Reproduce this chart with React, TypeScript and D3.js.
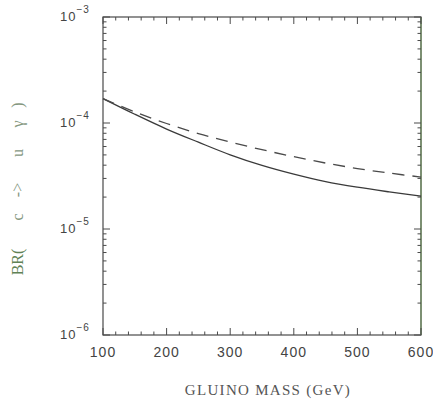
import React from "react";
import * as d3 from "d3";

const massGeV = [100, 150, 200, 250, 300, 350, 400, 450, 500, 550, 600];
const brSolid = [1.7e-4, 1.21e-4, 8.77e-5, 6.59e-5, 5.01e-5, 3.98e-5, 3.29e-5, 2.8e-5, 2.48e-5, 2.24e-5, 2.04e-5];
const brDashed = [1.7e-4, 1.27e-4, 9.89e-5, 7.94e-5, 6.61e-5, 5.6e-5, 4.81e-5, 4.19e-5, 3.72e-5, 3.37e-5, 3.09e-5];
const xTicks = [100, 200, 300, 400, 500, 600];
const yExps = [-3, -4, -5, -6];
const yTitleParts = ["BR(", "c", "->", "u", "\u03B3", ")"];

export default function App() {
  const W = 433, H = 400;
  const L = 103, R = 421, T = 17, B = 335;
  const x = d3.scaleLinear().domain([100, 600]).range([L, R]);
  const y = d3.scaleLog().domain([1e-6, 1e-3]).range([B, T]);
  const line = d3.line<number>().x((d, i) => x(massGeV[i])).y((d) => y(d)).curve(d3.curveCatmullRom);
  const minorX = d3.range(100, 601, 20).filter((v) => v % 100 !== 0);
  const minorY: number[] = [];
  for (let e = -6; e < -3; e++) for (let k = 2; k <= 9; k++) minorY.push(k * Math.pow(10, e));
  const ink = "#4a4a4a";
  const titlePos = [262, 217, 190, 153, 124, 105];
  return (
    <svg width={W} height={H} style={{ position: "absolute", left: 0, top: 0, background: "#fff" }}>
      <rect x={L} y={T} width={R - L} height={B - T} fill="none" stroke={ink} strokeWidth={1.2} />
      <line x1={R} x2={R} y1={T} y2={B} stroke="#6f8f5f" strokeWidth={1.2} />
      {xTicks.map((v) => (
        <g key={"xm" + v}>
          <line x1={x(v)} x2={x(v)} y1={B} y2={B - 7} stroke={ink} />
          <line x1={x(v)} x2={x(v)} y1={T} y2={T + 7} stroke={ink} />
          <text x={x(v)} y={357} textAnchor="middle" fontFamily="Liberation Sans, Arial, sans-serif" fontSize={14} fill="#444" letterSpacing={1}>
            {v}
          </text>
        </g>
      ))}
      {minorX.map((v) => (
        <g key={"xn" + v}>
          <line x1={x(v)} x2={x(v)} y1={B} y2={B - 3.5} stroke={ink} />
          <line x1={x(v)} x2={x(v)} y1={T} y2={T + 3.5} stroke={ink} />
        </g>
      ))}
      {yExps.map((e) => (
        <g key={"ym" + e}>
          <line x1={L} x2={L + 7} y1={y(Math.pow(10, e))} y2={y(Math.pow(10, e))} stroke={ink} />
          <line x1={R} x2={R - 7} y1={y(Math.pow(10, e))} y2={y(Math.pow(10, e))} stroke={ink} />
          <text x={60} y={y(Math.pow(10, e)) + 4} fontFamily="Liberation Sans, Arial, sans-serif" fontSize={13} fill="#444" letterSpacing={1}>
            10
            <tspan dy={-8} fontSize={10}>{"\u2212" + Math.abs(e)}</tspan>
          </text>
        </g>
      ))}
      {minorY.map((v, i) => (
        <g key={"yn" + i}>
          <line x1={L} x2={L + 3.5} y1={y(v)} y2={y(v)} stroke={ink} />
          <line x1={R} x2={R - 3.5} y1={y(v)} y2={y(v)} stroke={ink} />
        </g>
      ))}
      <path d={line(brSolid) || ""} fill="none" stroke="#3a3a3a" strokeWidth={1.3} />
      <path d={line(brDashed) || ""} fill="none" stroke="#4a4a4a" strokeWidth={1.3} strokeDasharray="12,8" />
      <text x={268} y={395} textAnchor="middle" fontFamily="Liberation Serif, Times New Roman, serif" fontSize={15} fill="#555" letterSpacing={1.3}>
        GLUINO MASS (GeV)
      </text>
      <text transform="rotate(-90)" textAnchor="middle" fontFamily="Liberation Serif, Times New Roman, serif" fontSize={16} fill="#7d9276">
        {yTitleParts.map((p, i) => (
          <tspan key={i} x={-titlePos[i]} y={23} fill={i === 0 ? "#5f8255" : "#85977f"}>
            {p}
          </tspan>
        ))}
      </text>
    </svg>
  );
}
